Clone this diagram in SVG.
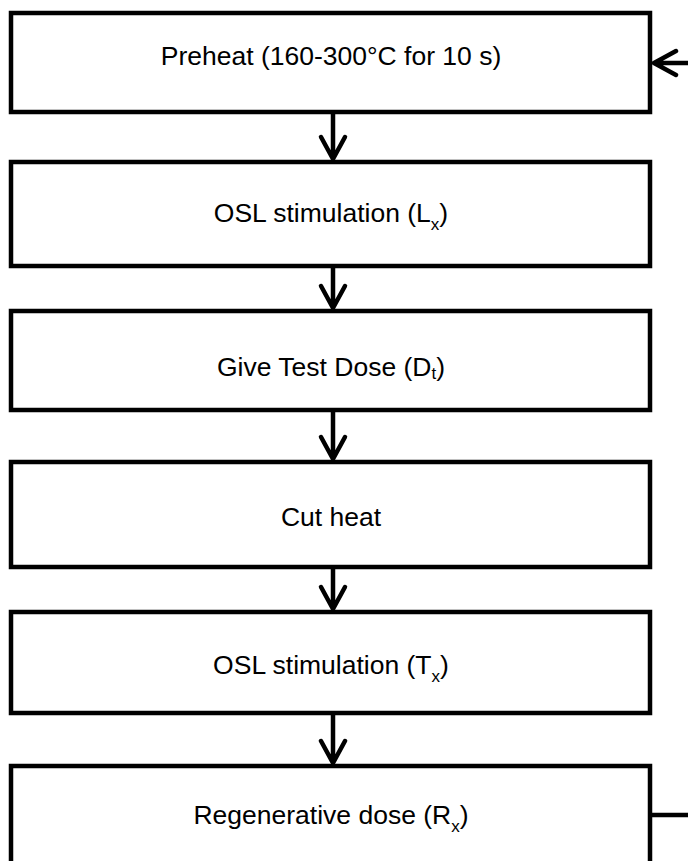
<svg xmlns="http://www.w3.org/2000/svg" width="688" height="861" viewBox="0 0 688 861">
<style>
.box{fill:#fff;stroke:#000;stroke-width:4.5}
.t{font-family:"Liberation Sans",Arial,sans-serif;font-size:26.5px;fill:#000;text-anchor:middle}
.s{font-size:17px}
.c{fill:none;stroke:#000;stroke-width:4.5;stroke-linecap:round;stroke-linejoin:round}
</style>
<rect width="688" height="861" fill="#fff"/>
<g id="n1"><rect class="box" x="11" y="13" width="639" height="99"/><text class="t" x="331" y="65">Preheat (160-300°C for 10 s)</text></g>
<g id="n2"><rect class="box" x="11" y="162" width="639" height="104"/><text class="t" x="331" y="222">OSL stimulation (L<tspan class="s" dy="8">x</tspan><tspan dy="-8">)</tspan></text></g>
<g id="n3"><rect class="box" x="11" y="311" width="639" height="99"/><text class="t" x="331" y="376">Give Test Dose (D<tspan class="s" dy="3">t</tspan><tspan dy="-3">)</tspan></text></g>
<g id="n4"><rect class="box" x="11" y="462" width="639" height="105"/><text class="t" x="331" y="526">Cut heat</text></g>
<g id="n5"><rect class="box" x="11" y="612" width="639" height="101"/><text class="t" x="331" y="674">OSL stimulation (T<tspan class="s" dy="8">x</tspan><tspan dy="-8">)</tspan></text></g>
<g id="n6"><rect class="box" x="11" y="766" width="639" height="110"/><text class="t" x="331" y="824">Regenerative dose (R<tspan class="s" dy="8">x</tspan><tspan dy="-8">)</tspan></text></g>
<g id="connectors">
<path class="c" d="M333 114V159M321 137L333 159L345 137"/>
<path class="c" d="M333 268V308M321 286L333 308L345 286"/>
<path class="c" d="M333 412V459M321 437L333 459L345 437"/>
<path class="c" d="M333 569V609M321 587L333 609L345 587"/>
<path class="c" d="M333 715V763M321 741L333 763L345 741"/>
<path class="c" d="M652 815H692"/>
<path class="c" d="M692 63H654M676 51L654 63L676 75"/>
</g>
</svg>
